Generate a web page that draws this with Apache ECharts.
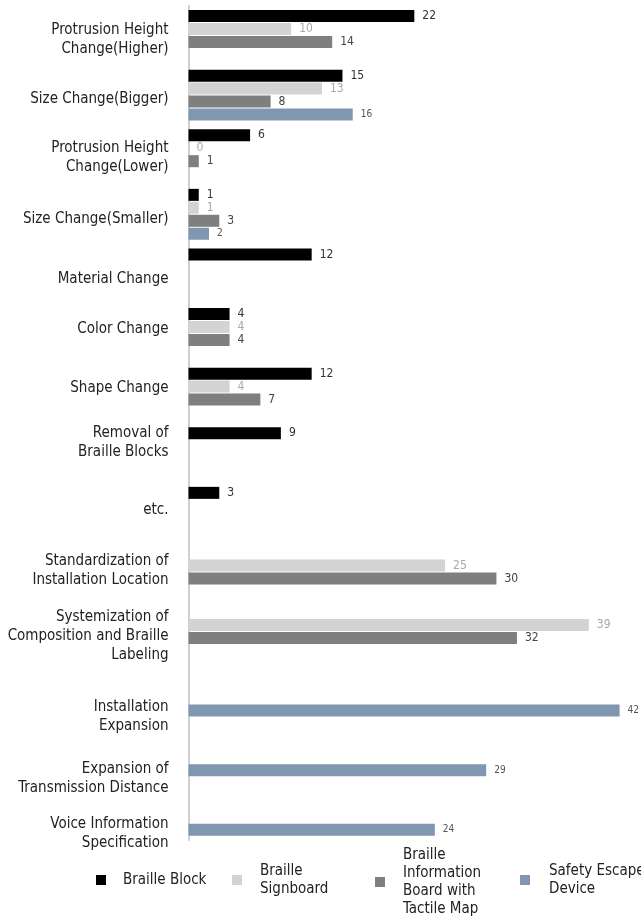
<!DOCTYPE html>
<html><head><meta charset="utf-8">
<script src="https://cdn.jsdelivr.net/npm/echarts@6/dist/echarts.min.js"></script>
<style>html,body{margin:0;padding:0;background:#fff}#c{width:641px;height:916px}</style>
</head><body><div id="c"></div>
<script>
const categories = [
  "Protrusion Height\nChange(Higher)",
  "Size Change(Bigger)",
  "Protrusion Height\nChange(Lower)",
  "Size Change(Smaller)",
  "Material Change",
  "Color Change",
  "Shape Change",
  "Removal of\nBraille Blocks",
  "etc.",
  "Standardization of\nInstallation Location",
  "Systemization of\nComposition and Braille\nLabeling",
  "Installation\nExpansion",
  "Expansion of\nTransmission Distance",
  "Voice Information\nSpecification"
];
const seriesNames = ["Braille Block", "Braille Signboard", "Braille Information Board with Tactile Map", "Safety Escape Device"];
const brailleBlock      = [22, 15, 6, 1, 12, 4, 12, 9, 3, '-', '-', '-', '-', '-'];
const brailleSignboard  = [10, 13, 0, 1, '-', 4, 4, '-', '-', 25, 39, '-', '-', '-'];
const infoBoard         = [14, 8, 1, 3, '-', 4, 7, '-', '-', 30, 32, '-', '-', '-'];
const safetyEscape      = ['-', 16, '-', 2, '-', '-', '-', '-', '-', '-', '-', 42, 29, 24];
const legendLabels = ["Braille Block", "Braille\nSignboard", "Braille\nInformation\nBoard with\nTactile Map", "Safety Escape\nDevice"];

const FONT = "'Liberation Sans Narrow', 'DejaVu Sans Condensed', 'Liberation Sans', sans-serif";
const colors = ['#000000', '#d3d3d3', '#7f7f7f', '#8097b1'];
const labelColors = ['#333333', '#a8a8a8', '#444444', '#555555'];
const labelSizes = [12, 12, 12, 10];
const dataArr = [brailleBlock, brailleSignboard, infoBoard, safetyEscape];

// vertical nudges of category labels (px, + = down) to match the reference placement
const labelShift = [4, 4, 3, 5, 5, -4, -5, -10, -2, -1, 5, 26, 28, 23];
const rich = {t: {fontSize: 15, lineHeight: 19, color: '#222', fontFamily: FONT, align: 'right'}};
labelShift.forEach(s => {
  const h = Math.abs(2 * s);
  if (h > 0) rich['g' + h] = {fontSize: 1, lineHeight: h, height: h};
});
function fmt(value, idx) {
  const s = labelShift[idx] || 0;
  const h = Math.abs(2 * s);
  const body = value.split('\n').map(l => '{t|' + l + '}').join('\n');
  if (h === 0) return body;
  return s > 0 ? '{g' + h + '| }\n' + body : body + '\n{g' + h + '| }';
}

const chart = echarts.init(document.getElementById('c'), null, {renderer: 'canvas'});
const legendLefts = [96, 232, 375, 520];
const legendTops = [871, 862, 846, 862];
const legendPad = [12, 13, 13, 14];
chart.setOption({
  animation: false,
  textStyle: {fontFamily: FONT},
  grid: {left: 188.5, right: 21.4, top: 5.7, height: 834.4, containLabel: false},
  xAxis: {type: 'value', min: 0, max: 42, show: false},
  yAxis: {
    type: 'category', inverse: true, data: categories,
    axisLine: {show: true, lineStyle: {color: '#d0d0d0', width: 2}},
    axisTick: {show: false},
    axisLabel: {interval: 0, color: '#222', fontSize: 15, fontFamily: FONT, margin: 20, lineHeight: 19, align: 'right', formatter: fmt, rich: rich},
    splitLine: {show: false}
  },
  legend: seriesNames.map((n, i) => ({
    data: [n], left: legendLefts[i], top: legendTops[i], orient: 'horizontal', padding: 0,
    icon: 'rect', itemWidth: 10, itemHeight: 10, itemGap: 0,
    formatter: () => legendLabels[i],
    textStyle: {fontSize: 15, color: '#222', fontFamily: FONT, lineHeight: 18, padding: [0, 0, 0, legendPad[i]], overflow: 'none'},
    selectedMode: false
  })),
  series: seriesNames.map((n, i) => ({
    name: n, type: 'bar', data: dataArr[i],
    barWidth: 12, barGap: '8%',
    itemStyle: {color: colors[i]},
    label: {show: true, position: 'right', distance: 8, color: labelColors[i], fontSize: labelSizes[i], fontFamily: FONT}
  }))
});
</script></body></html>
